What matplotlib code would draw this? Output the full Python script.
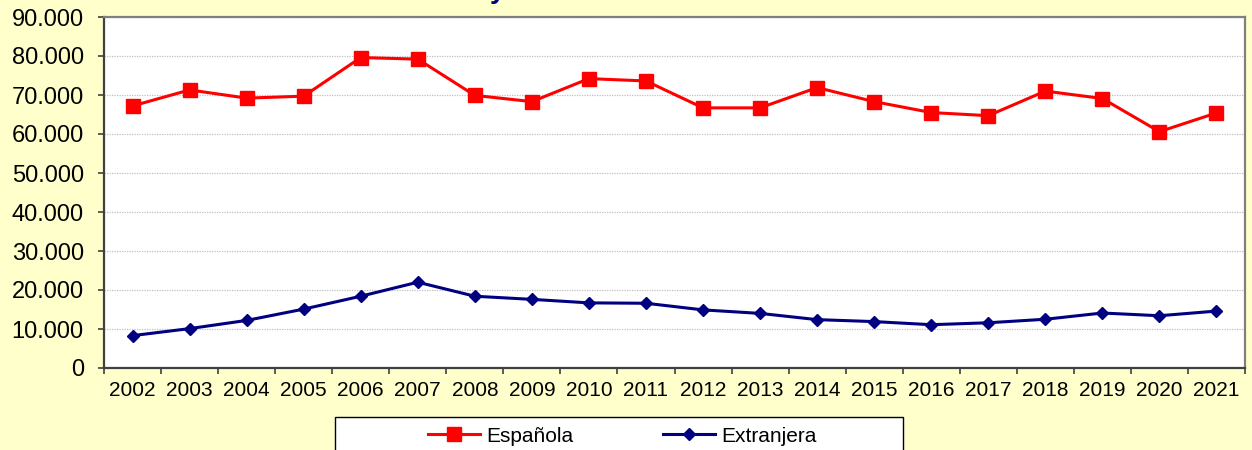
import matplotlib
matplotlib.use('Agg')
import matplotlib.pyplot as plt
from matplotlib.patches import Rectangle
from matplotlib.ticker import FuncFormatter

years = ['2002', '2003', '2004', '2005', '2006', '2007', '2008', '2009', '2010', '2011',
         '2012', '2013', '2014', '2015', '2016', '2017', '2018', '2019', '2020', '2021']
espanola = [67200, 71300, 69200, 69700, 79600, 79200, 69900, 68300, 74200, 73600,
            66700, 66700, 71900, 68300, 65500, 64700, 71000, 69100, 60600, 65400]
extranjera = [8300, 10100, 12200, 15100, 18400, 22000, 18400, 17600, 16700, 16600,
              14900, 14000, 12400, 11900, 11100, 11600, 12500, 14100, 13400, 14600]

plt.rcParams['font.family'] = ['Liberation Sans', 'DejaVu Sans']

W, H = 1252, 450
fig = plt.figure(figsize=(W / 100, H / 100), dpi=100, facecolor='#FFFFCC')
ax = fig.add_axes([104 / W, 1 - 368 / H, 1141 / W, 351 / H])
ax.set_facecolor('white')

x = list(range(len(years)))
ax.plot(x, espanola, color='#FF0000', lw=2.2, marker='s', ms=9.5,
        mec='#FF0000', mfc='#FF0000', label='Española', zorder=3)
ax.plot(x, extranjera, color='#000080', lw=2.2, marker='D', ms=6.5,
        mec='#000080', mfc='#000080', label='Extranjera', zorder=3)

ax.set_xlim(-0.5, len(years) - 0.5)
ax.set_ylim(0, 90000)
ax.set_yticks(range(0, 90001, 10000))
ax.yaxis.set_major_formatter(FuncFormatter(lambda v, p: f'{v:,.0f}'.replace(',', '.')))
ax.grid(axis='y', color='#C0C0C0', ls=(0, (1, 1)), lw=0.9)
ax.set_axisbelow(True)

# category ticks between years, labels centered
ax.set_xticks([i - 0.5 for i in range(len(years) + 1)])
ax.set_xticklabels([])
ax.set_xticks(x, minor=True)
ax.set_xticklabels(years, minor=True, fontsize=15)
ax.tick_params(axis='x', which='minor', length=0, pad=9)
ax.tick_params(axis='x', which='major', length=4.5, width=1.2, color='#404040')
ax.tick_params(axis='y', length=4.5, width=1.2, color='#404040', labelsize=17, pad=10)

for s in ['left', 'bottom']:
    ax.spines[s].set_color('#404040')
    ax.spines[s].set_linewidth(1.6)
for s in ['top', 'right']:
    ax.spines[s].set_color('#808080')
    ax.spines[s].set_linewidth(1.6)

# title sits mostly above the visible area, only its descender shows
fig.text(498 / W, 1 + 2 / H, 'y', color='#000080', fontsize=20, fontweight='bold',
         ha='center', va='baseline')

fig.patches.append(Rectangle((335 / W, -0.1), (903 - 335) / W, 0.1 + 1 - 417 / H,
                             transform=fig.transFigure, fc='white', ec='black', lw=1))
fig.legend(loc='center', bbox_to_anchor=(622 / W, 1 - 436 / H), ncol=2, frameon=False,
           fontsize=15, handlelength=2.5, handletextpad=0.3, columnspacing=4.3,
           borderpad=0, borderaxespad=0)

fig.savefig('out.png', dpi=100, facecolor=fig.get_facecolor())
